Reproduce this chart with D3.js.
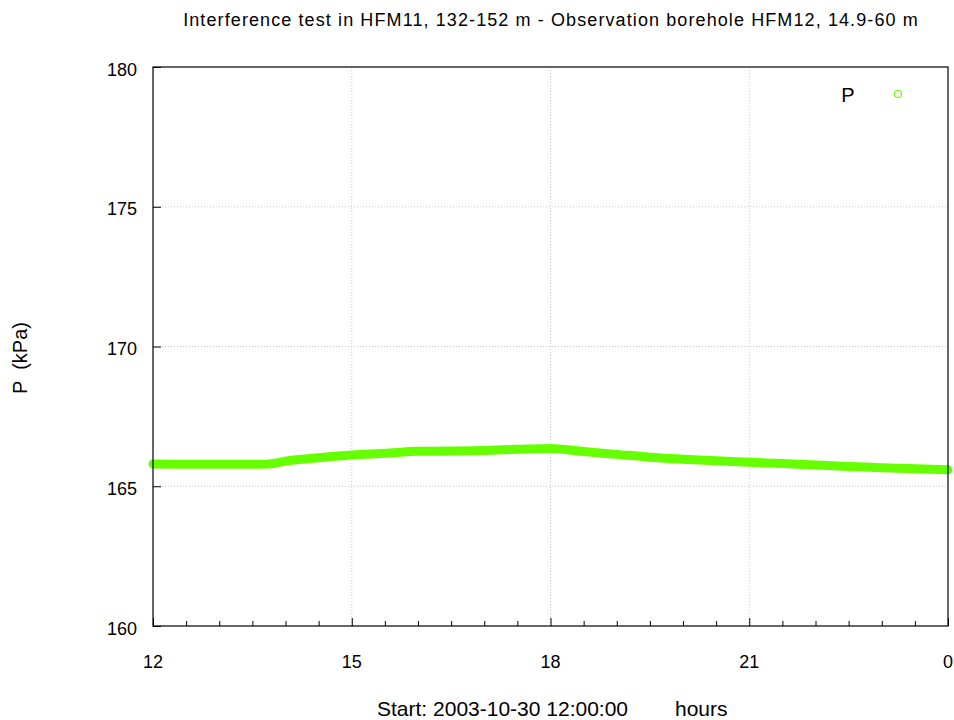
<!DOCTYPE html>
<html><head><meta charset="utf-8">
<script src="https://cdn.jsdelivr.net/npm/d3@7"></script>
<style>body{margin:0;background:#fff}svg{display:block}text{font-family:"Liberation Sans",Arial,sans-serif;fill:#000}</style>
</head><body>
<svg id="c" width="954" height="720"></svg>
<script>
const hours = [12.0,12.5,13.0,13.5,13.75,14.0,14.5,15.0,15.5,16.0,16.5,17.0,17.5,18.0,18.5,19.0,19.5,20.0,20.5,21.0,21.5,22.0,22.5,23.0,23.5,24.0];
const pressure = [165.80,165.79,165.79,165.79,165.80,165.90,166.02,166.12,166.18,166.25,166.26,166.28,166.32,166.35,166.24,166.14,166.04,165.97,165.91,165.86,165.81,165.76,165.71,165.66,165.63,165.59];
const xTicks = [12,15,18,21,24];
const xTickLabels = ["12","15","18","21","0"];
const yTicks = [160,165,170,175,180];
const title = "Interference test in HFM11, 132-152 m - Observation borehole HFM12, 14.9-60 m";

const svg = d3.select("#c");
const L=153,R=948,T=67,B=626;
const x = d3.scaleLinear().domain([12,24]).range([L,R]);
const y = d3.scaleLinear().domain([160,180]).range([B,T]);

// grid
const g = svg.append("g");
g.selectAll(".gx").data(xTicks.slice(1,-1)).enter().append("line")
 .attr("x1",d=>x(d)).attr("x2",d=>x(d)).attr("y1",T).attr("y2",B)
 .attr("stroke","#c8c8c8").attr("stroke-dasharray","1,2");
g.selectAll(".gy").data(yTicks.slice(1,-1)).enter().append("line")
 .attr("y1",d=>y(d)).attr("y2",d=>y(d)).attr("x1",L).attr("x2",R)
 .attr("stroke","#c8c8c8").attr("stroke-dasharray","1,2");

// data
const line = d3.line().x((d,i)=>x(hours[i])).y(d=>y(d)).curve(d3.curveMonotoneX);
svg.append("path").datum(pressure).attr("d",line)
 .attr("fill","none").attr("stroke","#66ff00").attr("stroke-width",9)
 .attr("stroke-linecap","round").attr("stroke-linejoin","round");

// axes
const xAxis = d3.axisBottom(x).tickValues(d3.range(12,24.01,0.5)).tickSize(-6).tickFormat("");
svg.append("g").attr("transform",`translate(0,${B})`).call(xAxis)
 .call(a=>{a.select(".domain").remove();a.selectAll("line").attr("stroke","#000").attr("y2",d=>Number.isInteger(d/3)?-8:-5);});
svg.selectAll(".xl").data(xTicks).enter().append("text")
 .attr("x",d=>x(d)).attr("y",668).attr("text-anchor","middle").attr("font-size",18)
 .text((d,i)=>xTickLabels[i]);
const yAxis = d3.axisLeft(y).tickValues(yTicks).tickSize(-8).tickFormat("");
svg.append("g").attr("transform",`translate(${L},0)`).call(yAxis)
 .call(a=>{a.select(".domain").remove();a.selectAll("line").attr("stroke","#000");});
svg.selectAll(".yl").data(yTicks).enter().append("text")
 .attr("x",137).attr("y",d=>y(d)+8.5).attr("text-anchor","end").attr("font-size",18).text(d=>d);

svg.append("rect").attr("x",L).attr("y",T).attr("width",R-L).attr("height",B-T)
 .attr("fill","none").attr("stroke","#000").attr("stroke-width",1.2);

// labels
svg.append("text").attr("x",551).attr("y",26).attr("text-anchor","middle").attr("font-size",18)
 .attr("letter-spacing","1.1").text(title);
svg.append("text").attr("x",377).attr("y",716).attr("font-size",21).text("Start: 2003-10-30 12:00:00");
svg.append("text").attr("x",675).attr("y",716).attr("font-size",21).text("hours");
svg.append("text").attr("transform","translate(27,358) rotate(-90)").attr("text-anchor","middle").attr("font-size",20)
 .attr("xml:space","preserve").style("white-space","pre").text("P  (kPa)");

// legend
svg.append("text").attr("x",848).attr("y",102).attr("text-anchor","middle").attr("font-size",20).text("P");
svg.append("circle").attr("cx",898).attr("cy",94).attr("r",3.5).attr("fill","none").attr("stroke","#66ff00").attr("stroke-width",1.2);
</script>
</body></html>
